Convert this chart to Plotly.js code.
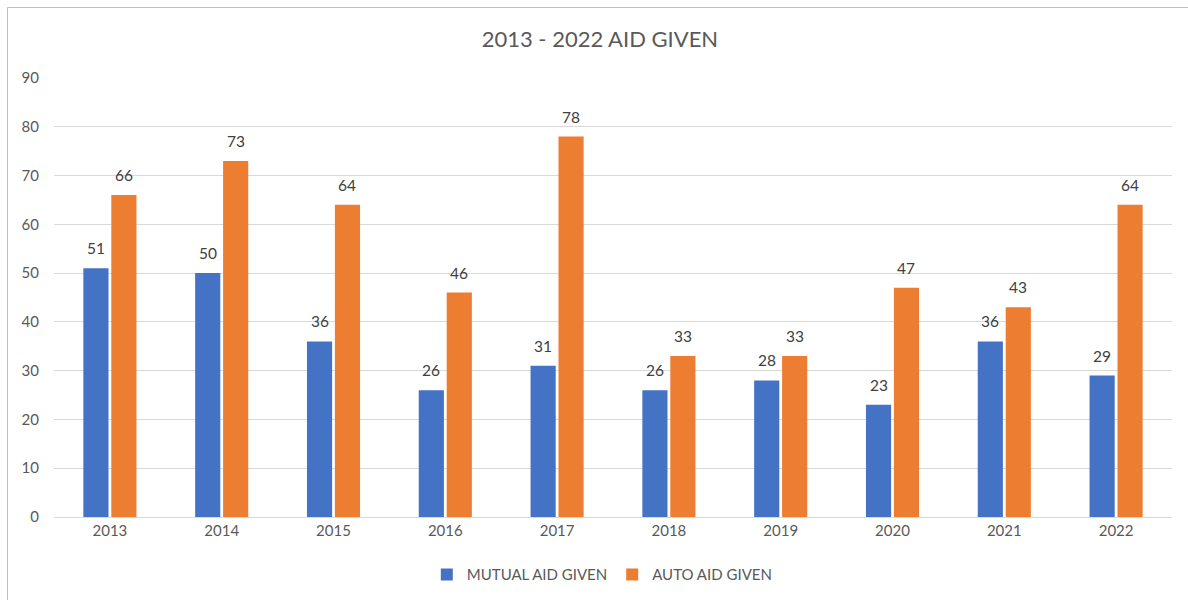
<!DOCTYPE html>
<html>
<head>
<meta charset="utf-8">
<script src="https://cdn.plot.ly/plotly-3.0.1.min.js"></script>
<style>html,body{margin:0;padding:0;background:#fff;}#chart{width:1188px;height:600px;}</style>
</head>
<body>
<div id="chart"></div>
<script>
const years = ['2013','2014','2015','2016','2017','2018','2019','2020','2021','2022'];
const mutualAid = [51, 50, 36, 26, 31, 26, 28, 23, 36, 29];
const autoAid = [66, 73, 64, 46, 78, 33, 33, 47, 43, 64];
const yTicks = [0,10,20,30,40,50,60,70,80,90];

const font = 'Lato, "Open Sans", sans-serif';
const lblFont = {family: font, size: 15.5, color: '#404040'};

const bargap = 0.5, bargroupgap = 0.1;
const slot = (1 - bargap) / 2;

const traces = [
  {type:'bar', name:'MUTUAL AID GIVEN', x: years, y: mutualAid,
   marker:{color:'#4472C4'}, hoverinfo:'x+y'},
  {type:'bar', name:'AUTO AID GIVEN', x: years, y: autoAid,
   marker:{color:'#ED7D31'}, hoverinfo:'x+y'}
];

const annotations = [];
[mutualAid, autoAid].forEach((series, s) => {
  series.forEach((v, i) => {
    annotations.push({xref:'x', yref:'y', x: i + (s === 0 ? -slot/2 : slot/2), y: v,
      text: String(v), showarrow:false, xanchor:'center', yanchor:'bottom', yshift:9,
      font: lblFont});
  });
});

const layout = {
  width:1188, height:600,
  margin:{l:54, r:16, t:78, b:83},
  paper_bgcolor:'#fff', plot_bgcolor:'#fff',
  font:{family: font, size:15, color:'#595959'},
  title:{text:'2013 - 2022 AID GIVEN', x:0.505, xanchor:'center', y:0.935, yanchor:'middle',
         font:{family: font, size:22, color:'#595959'}},
  barmode:'group', bargap: bargap, bargroupgap: bargroupgap,
  xaxis:{type:'category', showgrid:false, showline:true, linecolor:'#D9D9D9', linewidth:1,
         ticks:'', tickfont:{family: font, size:15, color:'#595959'}, automargin:false,
         range:[-0.5, years.length - 0.5]},
  yaxis:{range:[0,90], tickvals:yTicks, showgrid:true, gridcolor:'#D9D9D9', gridwidth:1,
         zeroline:false, showline:false, ticks:'', ticklabelstandoff:14,
         tickfont:{family: font, size:15, color:'#595959'}, automargin:false},
  legend:{orientation:'h', x:0.507, xanchor:'center', xref:'container', y:0.042, yref:'container',
          yanchor:'middle', font:{family: font, size:15, color:'#595959'}, traceorder:'normal'},
  annotations: annotations,
  shapes:[{type:'rect', xref:'paper', yref:'paper',
           x0:(7.5-54)/1118, x1:(1200-54)/1118, y0:(517-620)/439, y1:(517-7.5)/439,
           line:{color:'#BFBFBF', width:1}, fillcolor:'rgba(0,0,0,0)'}],
  showlegend:true
};

Plotly.newPlot('chart', traces, layout, {displayModeBar:false, staticPlot:true});
</script>
</body>
</html>
